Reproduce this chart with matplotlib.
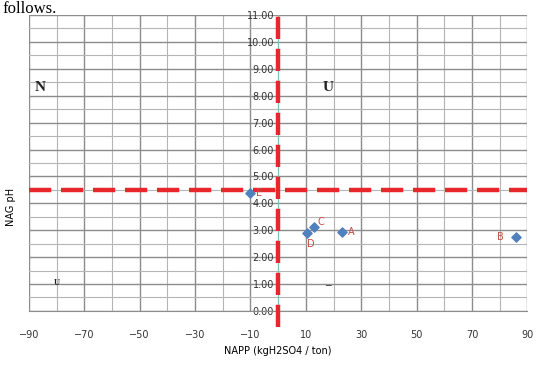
import numpy as np
import matplotlib; matplotlib.use("Agg")
import matplotlib.pyplot as plt
from matplotlib.ticker import MultipleLocator, FormatStrFormatter

# sample points (NAPP kg H2SO4/t, NAG pH)
names = ["E", "D", "C", "A", "B"]
napp  = [-10.0, 10.5, 12.8, 23.0, 86.0]
nagph = [4.40, 2.90, 3.10, 2.95, 2.75]

# quadrant labels (as they show in the figure)
quad_txt = ["N", "U", "U", "–"]
quad_x   = [-86, 18, -80, 18]
quad_y   = [8.3, 8.3, 1.05, 0.95]
quad_fs  = [11, 11, 6, 8]

XMIN, XMAX, YMIN, YMAX = -90, 90, 0, 11
NAG_CUT, NAPP_CUT = 4.5, 0

fig = plt.figure(figsize=(5.36, 3.67), dpi=100)
ax = fig.add_axes([0.054, 0.153, 0.93, 0.806])

ax.set_xlim(XMIN, XMAX); ax.set_ylim(YMIN, YMAX)
ax.set_xticks(np.arange(-90, 91, 20))
ax.xaxis.set_minor_locator(MultipleLocator(10))
ax.yaxis.set_major_locator(MultipleLocator(1))
ax.yaxis.set_minor_locator(MultipleLocator(0.5))
ax.yaxis.set_major_formatter(FormatStrFormatter("%.2f"))
ax.grid(which='major', color='#8c8c8c', lw=1.0)
ax.grid(which='minor', color='#b5b5b5', lw=0.8)
ax.set_axisbelow(True)

# Excel style: value axis crosses at NAPP = 0
for s in ['top', 'right']:
    ax.spines[s].set_visible(False)
ax.spines['left'].set_position(('data', 0))
ax.spines['left'].set_color('#7fbfbf')
ax.spines['bottom'].set_color('#8c8c8c')
ax.tick_params(axis='both', length=0, labelsize=7, colors='#333333', pad=3)
ax.tick_params(axis='x', pad=14)
ax.tick_params(which='minor', length=0)

# classification lines
ax.plot([XMIN, XMAX], [NAG_CUT, NAG_CUT], color='#e8262b', lw=3.2, dashes=(5, 2.2), zorder=3)
ax.plot([NAPP_CUT, NAPP_CUT], [-0.6, 11.2], color='#e8262b', lw=3.2, dashes=(5, 2.2),
        zorder=3, clip_on=False)

ax.scatter(napp, nagph, marker='D', s=22, color='#4f81bd', zorder=4)
offs = {"E": (4, 0), "D": (0, -8), "C": (3, 4), "A": (4, 0), "B": (-9, 0)}
for n, x, y in zip(names, napp, nagph):
    ax.annotate(n, (x, y), xytext=offs[n], textcoords='offset points', color='#c0504d',
                fontsize=7, ha='left' if offs[n][0] >= 0 else 'right', va='center', zorder=5)

for t, x, y, fs in zip(quad_txt, quad_x, quad_y, quad_fs):
    ax.text(x, y, t, fontsize=fs, family='Liberation Serif', fontweight='bold', color='#222222',
            ha='center', va='center')

ax.set_xlabel("NAPP (kgH2SO4 / ton)", fontsize=7, labelpad=4)
fig.text(0.02, 0.435, "NAG pH", rotation=90, fontsize=7, ha='center', va='center')

# surrounding document text above the chart
fig.text(0.005, 0.965, "follows.", fontsize=12, family='Liberation Serif', va='baseline')

fig.savefig("out.png", dpi=100)
